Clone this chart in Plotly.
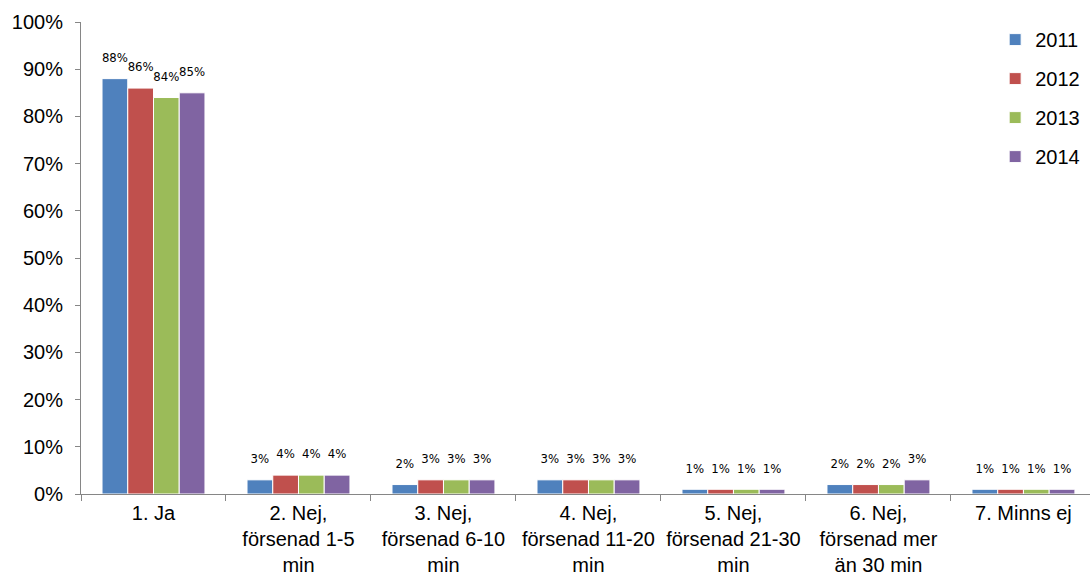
import plotly.graph_objects as go

categories = [
    "1. Ja",
    "2. Nej,<br>försenad 1-5<br>min",
    "3. Nej,<br>försenad 6-10<br>min",
    "4. Nej,<br>försenad 11-20<br>min",
    "5. Nej,<br>försenad 21-30<br>min",
    "6. Nej,<br>försenad mer<br>än 30 min",
    "7. Minns ej",
]
years = ["2011", "2012", "2013", "2014"]
values = {
    "2011": [88, 3, 2, 3, 1, 2, 1],
    "2012": [86, 4, 3, 3, 1, 2, 1],
    "2013": [84, 4, 3, 3, 1, 2, 1],
    "2014": [85, 4, 3, 3, 1, 3, 1],
}
colors = {"2011": "#4F81BD", "2012": "#C0504D", "2013": "#9BBB59", "2014": "#8064A2"}
y_ticks = [0, 10, 20, 30, 40, 50, 60, 70, 80, 90, 100]

GAP = 0.29
fig = go.Figure()
for yr in years:
    vals = values[yr]
    fig.add_trace(go.Bar(
        name=yr,
        x=categories,
        y=vals,
        legendgroup=yr,
        marker=dict(color=colors[yr], line=dict(color="white", width=1)),
        hoverinfo="skip",
    ))
# value labels: grouped text points sitting above each bar
for yr in years:
    vals = values[yr]
    fig.add_trace(go.Scatter(
        x=categories,
        y=vals,
        mode="markers+text",
        text=[f"{v}%" for v in vals],
        textposition="top center",
        textfont=dict(family="DejaVu Sans Condensed, Arial Narrow, sans-serif", size=13, color="#000000"),
        marker=dict(size=20, opacity=0),
        legendgroup=yr,
        showlegend=False,
        cliponaxis=False,
        hoverinfo="skip",
    ))

axis_color = "#868686"
fig.update_layout(
    width=1090,
    height=577,
    margin=dict(l=81, r=0, t=22, b=83),
    paper_bgcolor="white",
    plot_bgcolor="white",
    barmode="group",
    bargap=GAP,
    bargroupgap=0.0,
    scattermode="group",
    scattergap=GAP,
    font=dict(family="Liberation Sans, Arial, sans-serif", size=20, color="#000000"),
    showlegend=True,
    legend=dict(
        x=0.906, xanchor="left", y=1.004, yanchor="top",
        traceorder="grouped", tracegroupgap=10,
        font=dict(size=20), bgcolor="rgba(0,0,0,0)",
    ),
    xaxis=dict(
        type="category",
        range=[-0.5, 6.459],
        automargin=False,
        showline=True, linecolor=axis_color, linewidth=1,
        ticks="outside", tickson="boundaries", ticklen=6, tickcolor=axis_color,
        showgrid=False, zeroline=False,
        tickfont=dict(size=20),
        tickangle=0,
        ticklabelstandoff=1,
    ),
    yaxis=dict(
        range=[0, 100],
        automargin=False,
        tickvals=y_ticks,
        ticktext=[f"{t}%" for t in y_ticks],
        showline=True, linecolor=axis_color, linewidth=1,
        ticks="outside", ticklen=5, tickcolor=axis_color,
        showgrid=False, zeroline=False,
        tickfont=dict(size=20),
        ticklabelstandoff=8,
    ),
)

fig.write_html("out.html")
